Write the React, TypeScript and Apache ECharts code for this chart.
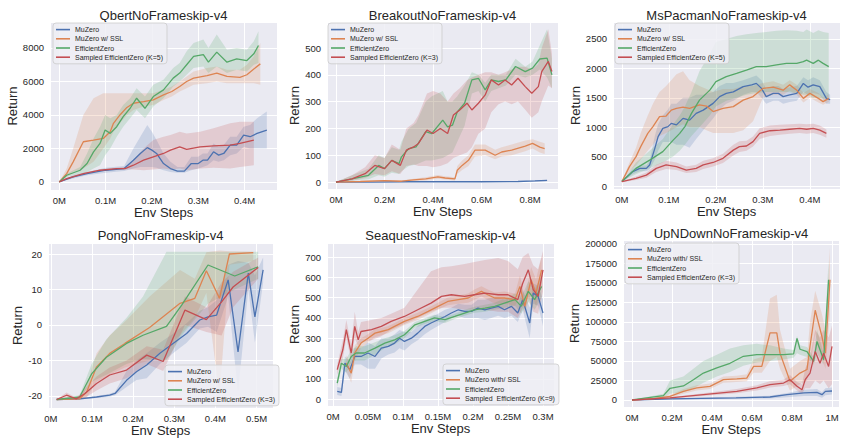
import React, { useEffect, useRef } from "react";
import * as echarts from "echarts";

// ---------- colours / names ----------
const C_BLUE = "#4C72B0";
const C_ORANGE = "#DD8452";
const C_GREEN = "#55A868";
const C_RED = "#C44E52";

// ---------- Qbert ----------
const qbMuX = [0, 0.03, 0.06, 0.1, 0.14, 0.16, 0.175, 0.19, 0.2, 0.21, 0.225, 0.24, 0.255, 0.27, 0.285, 0.3, 0.31, 0.32, 0.333, 0.344, 0.355, 0.369, 0.383, 0.398, 0.412, 0.427, 0.448];
const qbMuY = [0, 300, 500, 700, 800, 1300, 1700, 2050, 1900, 1700, 1100, 800, 650, 650, 1100, 1100, 1300, 1300, 1800, 1600, 1700, 2200, 2200, 2800, 2700, 2900, 3100];
const qbMuLo = [0, 200, 400, 550, 650, 800, 900, 900, 900, 850, 700, 600, 550, 550, 700, 800, 900, 1000, 1300, 1200, 1300, 1600, 1700, 2100, 2000, 2000, 2000];
const qbMuHi = [0, 400, 600, 850, 950, 2000, 2700, 3400, 3000, 2500, 1700, 1200, 900, 900, 1500, 1500, 1700, 1700, 2300, 2100, 2200, 2700, 2700, 3300, 3400, 3800, 4200];

const qbSslX = [0, 0.016, 0.03, 0.052, 0.074, 0.095, 0.11, 0.117, 0.131, 0.146, 0.16, 0.182, 0.203, 0.225, 0.243, 0.26, 0.275, 0.29, 0.319, 0.34, 0.362, 0.39, 0.405, 0.42, 0.434];
const qbSslY = [0, 500, 1200, 2400, 2500, 2600, 3000, 3500, 4000, 4450, 4700, 4800, 4900, 5200, 5400, 5700, 6000, 6200, 6350, 6500, 6300, 6250, 6400, 6750, 7050];
const qbSslLo = [0, 300, 600, 800, 1200, 2000, 2600, 3000, 3500, 4000, 4300, 4500, 4600, 4900, 5100, 5400, 5600, 5800, 5900, 6000, 5900, 5900, 5900, 5900, 5800];
const qbSslHi = [0, 800, 2000, 4000, 5000, 5300, 5300, 5300, 5300, 5300, 5300, 5300, 5300, 5500, 5700, 6000, 6300, 6600, 6800, 6900, 6700, 6700, 7000, 7500, 8300];

const qbEzX = [0, 0.016, 0.045, 0.06, 0.074, 0.088, 0.099, 0.11, 0.124, 0.138, 0.153, 0.167, 0.185, 0.203, 0.225, 0.246, 0.26, 0.275, 0.29, 0.311, 0.322, 0.34, 0.362, 0.383, 0.405, 0.42, 0.43];
const qbEzY = [0, 400, 700, 1100, 1800, 2300, 3100, 2900, 3300, 3900, 4400, 5000, 4400, 5100, 5500, 6200, 6500, 7000, 7500, 7600, 7150, 7750, 7150, 7350, 7250, 7650, 8150];
const qbEzLo = [0, 300, 500, 600, 800, 1000, 1600, 2000, 2700, 3300, 3800, 4300, 3800, 4500, 5000, 5700, 6000, 6400, 6800, 6900, 6500, 6900, 6500, 6700, 6600, 7000, 7100];
const qbEzHi = [0, 500, 900, 1700, 2600, 3300, 4000, 3800, 4000, 4600, 5000, 5600, 5100, 5800, 6100, 6800, 7100, 7800, 8300, 8500, 8000, 8800, 7900, 8000, 7900, 8400, 9000];

const qbSezX = [0, 0.016, 0.052, 0.088, 0.124, 0.142, 0.16, 0.182, 0.203, 0.225, 0.24, 0.26, 0.275, 0.304, 0.333, 0.369, 0.39, 0.42];
const qbSezY = [0, 200, 500, 700, 800, 800, 1000, 1300, 1500, 1700, 1900, 2100, 1950, 2100, 2150, 2200, 2300, 2500];
const qbSezLo = [0, 150, 450, 650, 750, 750, 750, 700, 750, 800, 750, 800, 700, 800, 850, 800, 900, 1000];
const qbSezHi = [0, 250, 550, 750, 850, 900, 1300, 2000, 2500, 2700, 2800, 3000, 2900, 3000, 3200, 3500, 3600, 3600];

// ---------- Breakout ----------
const brMuX = [0, 0.15, 0.3, 0.45, 0.6, 0.75, 0.82, 0.87];
const brMuY = [0, 0, 1, 1, 1, 2, 4, 6];
const brMuLo = [0, 0, 0, 0, 0, 0, 1, 3];
const brMuHi = [0, 1, 2, 2, 2, 4, 6, 8];

const brSslX = [0, 0.1, 0.2, 0.27, 0.32, 0.37, 0.42, 0.45, 0.49, 0.5, 0.52, 0.546, 0.573, 0.615, 0.656, 0.683, 0.724, 0.78, 0.81, 0.84, 0.86];
const brSslY = [0, 2, 5, 3, 8, 12, 19, 15, 12, 44, 62, 81, 119, 119, 100, 112, 119, 134, 144, 130, 125];
const brSslLo = [0, 0, 2, 1, 4, 6, 12, 9, 6, 30, 45, 60, 95, 100, 85, 95, 100, 115, 125, 110, 105];
const brSslHi = [0, 4, 8, 6, 12, 18, 26, 22, 18, 60, 80, 100, 140, 140, 120, 130, 140, 155, 160, 150, 145];

const brEzX = [0, 0.066, 0.134, 0.176, 0.2, 0.23, 0.26, 0.27, 0.3, 0.33, 0.37, 0.395, 0.44, 0.46, 0.48, 0.5, 0.53, 0.56, 0.587, 0.615, 0.64, 0.67, 0.7, 0.74, 0.78, 0.81, 0.84, 0.87, 0.89];
const brEzY = [0, 12, 25, 62, 50, 81, 69, 94, 125, 131, 188, 181, 231, 206, 212, 262, 294, 381, 387, 344, 381, 375, 381, 431, 412, 425, 459, 462, 400];
const brEzLo = [0, 5, 10, 25, 20, 35, 30, 40, 60, 65, 80, 80, 90, 100, 110, 150, 210, 330, 340, 300, 340, 350, 360, 400, 390, 400, 420, 390, 350];
const brEzHi = [0, 25, 50, 100, 90, 130, 120, 150, 200, 220, 300, 320, 340, 300, 300, 320, 360, 410, 400, 370, 400, 400, 400, 460, 430, 450, 510, 570, 460];

const brSezX = [0, 0.066, 0.12, 0.16, 0.2, 0.23, 0.265, 0.29, 0.32, 0.34, 0.375, 0.4, 0.43, 0.46, 0.484, 0.51, 0.54, 0.56, 0.587, 0.615, 0.64, 0.67, 0.697, 0.724, 0.75, 0.78, 0.807, 0.834, 0.848, 0.875, 0.89];
const brSezY = [0, 12, 31, 62, 50, 81, 62, 119, 131, 144, 194, 181, 200, 181, 250, 269, 294, 269, 294, 325, 381, 362, 381, 362, 387, 356, 331, 356, 412, 450, 412];
const brSezLo = [0, 5, 15, 30, 25, 40, 30, 60, 65, 60, 60, 55, 60, 70, 90, 100, 110, 130, 180, 200, 260, 290, 300, 290, 300, 270, 240, 260, 300, 360, 350];
const brSezHi = [0, 25, 55, 100, 90, 140, 120, 200, 220, 250, 330, 340, 330, 300, 330, 350, 380, 390, 400, 410, 410, 400, 410, 420, 430, 430, 420, 440, 500, 570, 480];

// ---------- MsPacman ----------
const msMuX = [0, 0.023, 0.038, 0.052, 0.059, 0.07, 0.077, 0.087, 0.098, 0.105, 0.116, 0.13, 0.144, 0.158, 0.173, 0.194, 0.208, 0.222, 0.237, 0.258, 0.276, 0.286, 0.297, 0.307, 0.322, 0.333, 0.343, 0.357, 0.372, 0.386, 0.396, 0.407, 0.421, 0.435, 0.443];
const msMuY = [75, 245, 300, 300, 357, 640, 840, 980, 1010, 1065, 1040, 1150, 1120, 1235, 1290, 1405, 1520, 1575, 1600, 1690, 1720, 1745, 1660, 1520, 1575, 1575, 1520, 1550, 1575, 1745, 1680, 1720, 1690, 1490, 1470];
const msMuLo = [75, 200, 250, 250, 280, 450, 600, 750, 750, 750, 700, 700, 650, 800, 950, 1150, 1300, 1400, 1450, 1550, 1600, 1600, 1500, 1400, 1450, 1450, 1400, 1430, 1450, 1600, 1550, 1580, 1550, 1400, 1400];
const msMuHi = [75, 290, 350, 350, 430, 850, 1050, 1200, 1300, 1400, 1400, 1500, 1500, 1550, 1550, 1600, 1700, 1750, 1750, 1800, 1850, 1880, 1800, 1650, 1700, 1700, 1650, 1680, 1700, 1850, 1800, 1850, 1800, 1600, 1550];

const msSslX = [0, 0.016, 0.03, 0.04, 0.055, 0.066, 0.08, 0.094, 0.105, 0.116, 0.13, 0.144, 0.165, 0.18, 0.194, 0.215, 0.237, 0.258, 0.279, 0.3, 0.322, 0.343, 0.357, 0.372, 0.386, 0.4, 0.418, 0.428, 0.44];
const msSslY = [75, 330, 500, 670, 895, 1010, 1180, 1190, 1290, 1320, 1340, 1320, 1380, 1360, 1265, 1320, 1350, 1460, 1520, 1660, 1680, 1630, 1720, 1630, 1490, 1575, 1490, 1435, 1490];
const msSslLo = [75, 250, 350, 450, 600, 700, 850, 900, 950, 1000, 1050, 1000, 1000, 950, 900, 900, 900, 950, 1100, 1500, 1550, 1550, 1620, 1550, 1420, 1500, 1420, 1380, 1430];
const msSslHi = [75, 400, 650, 900, 1200, 1400, 1600, 1700, 1800, 1900, 1950, 1800, 1700, 1650, 1600, 1650, 1650, 1700, 1700, 1750, 1780, 1720, 1800, 1720, 1580, 1650, 1580, 1500, 1560];

const msEzX = [0, 0.03, 0.059, 0.087, 0.109, 0.123, 0.134, 0.148, 0.165, 0.187, 0.2, 0.222, 0.244, 0.265, 0.286, 0.307, 0.329, 0.35, 0.372, 0.386, 0.393, 0.407, 0.418, 0.428, 0.44];
const msEzY = [75, 300, 440, 585, 780, 895, 1010, 1235, 1460, 1630, 1775, 1860, 1915, 1970, 2030, 2030, 2060, 2085, 2085, 2115, 2140, 2085, 2140, 2085, 2030];
const msEzLo = [75, 200, 300, 400, 500, 600, 700, 850, 1000, 1200, 1350, 1450, 1500, 1550, 1580, 1600, 1600, 1600, 1580, 1550, 1550, 1500, 1500, 1480, 1500];
const msEzHi = [75, 400, 600, 800, 1050, 1200, 1350, 1600, 1950, 2250, 2450, 2500, 2550, 2580, 2600, 2620, 2640, 2650, 2640, 2620, 2660, 2600, 2650, 2620, 2600];

const msSezX = [0, 0.03, 0.052, 0.073, 0.094, 0.116, 0.137, 0.158, 0.173, 0.194, 0.215, 0.237, 0.25, 0.265, 0.279, 0.293, 0.315, 0.336, 0.357, 0.378, 0.393, 0.407, 0.421, 0.435];
const msSezY = [75, 130, 185, 300, 360, 330, 270, 300, 360, 400, 470, 610, 670, 680, 755, 895, 940, 950, 965, 980, 965, 980, 950, 895];
const msSezLo = [65, 100, 140, 240, 290, 270, 220, 240, 290, 330, 390, 520, 580, 600, 670, 800, 850, 870, 890, 900, 890, 900, 870, 820];
const msSezHi = [85, 160, 230, 360, 430, 400, 330, 360, 430, 470, 550, 700, 760, 770, 840, 980, 1030, 1040, 1050, 1060, 1050, 1060, 1030, 960];

// ---------- Pong ----------
const pgMuX = [0.014, 0.07, 0.111, 0.143, 0.156, 0.184, 0.208, 0.233, 0.265, 0.297, 0.33, 0.362, 0.382, 0.403, 0.431, 0.455, 0.48, 0.496, 0.516];
const pgMuY = [-21, -20.8, -20.3, -19.8, -19.3, -15.6, -13.2, -11.3, -8, -5.2, -2.4, 1.4, 2.3, 2.8, 12.7, -7.6, 14.6, 2.3, 15.5];
const pgMuLo = [-21, -21, -20.6, -20.2, -19.8, -17.5, -15.5, -15, -11, -8, -5, -1, -0.5, -2, 8, -19, 10, -5, 12];
const pgMuHi = [-21, -20.6, -20, -19.4, -18.8, -13, -10, -8, -5, -2.5, 0.5, 4, 5, 7, 17, 18, 17.5, 14, 19];

const pgSslX = [0.014, 0.07, 0.087, 0.111, 0.143, 0.18, 0.24, 0.314, 0.35, 0.378, 0.41, 0.434, 0.492];
const pgSslY = [-21, -20.8, -18.9, -11.8, -8, -5.2, -0.7, 6.1, 7.5, 15.3, 7.5, 20, 20.4];
const pgSslLo = [-21, -21, -20.5, -16, -14, -12, -10, -3, 2, 9, -20, 17, 18];
const pgSslHi = [-21, -20.5, -17, -8, -3, 1, 8, 15.5, 13, 20.5, 21, 20.8, 20.6];

const pgEzX = [0.014, 0.07, 0.099, 0.135, 0.184, 0.224, 0.281, 0.318, 0.382, 0.447, 0.504];
const pgEzY = [-21, -20.3, -13.8, -9.1, -5.2, -2.9, -0.4, 5.6, 16.9, 13.8, 16.4];
const pgEzLo = [-21, -20.8, -16, -14, -11, -9.5, -10, -3, 6, 10, 13];
const pgEzHi = [-21, -19.8, -11, -4, 2, 8, 20.6, 20.6, 20.6, 20.6, 20.6];

const pgSezX = [0.014, 0.038, 0.062, 0.083, 0.111, 0.143, 0.184, 0.233, 0.273, 0.326, 0.378, 0.415, 0.443, 0.504];
const pgSezY = [-21, -19.8, -20.8, -19.3, -16.5, -14.1, -12.7, -8.5, -10.3, 4.2, 1.5, 6.5, 10.7, 16.2];
const pgSezLo = [-21, -20.5, -21, -20.5, -18.5, -16.5, -15, -11, -13, 0, -2, -3, 5, 13];
const pgSezHi = [-21, -19, -20.5, -18, -14.5, -12, -10, -6, -7, 8, 5, 12, 15, 19];

// ---------- Seaquest ----------
const sqMuX = [0.006, 0.012, 0.017, 0.024, 0.031, 0.04, 0.05, 0.06, 0.069, 0.079, 0.088, 0.095, 0.102, 0.112, 0.121, 0.131, 0.14, 0.15, 0.16, 0.169, 0.179, 0.188, 0.198, 0.207, 0.217, 0.226, 0.236, 0.245, 0.255, 0.264, 0.271, 0.281, 0.286, 0.293, 0.3];
const sqMuY = [38, 33, 177, 145, 210, 210, 227, 210, 251, 260, 276, 300, 284, 300, 325, 358, 375, 391, 407, 424, 440, 432, 432, 448, 440, 448, 457, 440, 457, 424, 490, 375, 522, 506, 424];
const sqMuLo = [20, 15, 140, 100, 170, 170, 150, 150, 200, 220, 230, 250, 240, 270, 290, 320, 340, 360, 380, 400, 410, 400, 400, 400, 390, 400, 410, 400, 410, 380, 440, 300, 470, 460, 360];
const sqMuHi = [60, 55, 210, 190, 250, 250, 280, 260, 300, 300, 320, 340, 330, 330, 360, 390, 405, 420, 440, 450, 470, 465, 465, 490, 490, 500, 500, 490, 500, 470, 540, 450, 570, 560, 490];

const sqSslX = [0.019, 0.026, 0.031, 0.04, 0.05, 0.06, 0.069, 0.079, 0.088, 0.102, 0.121, 0.136, 0.15, 0.164, 0.179, 0.193, 0.202, 0.212, 0.221, 0.231, 0.245, 0.26, 0.267, 0.274, 0.283, 0.29, 0.298];
const sqSslY = [177, 128, 227, 276, 300, 325, 333, 342, 358, 383, 407, 432, 457, 481, 490, 498, 514, 531, 514, 498, 498, 490, 555, 457, 588, 522, 637];
const sqSslLo = [140, 80, 190, 250, 280, 305, 315, 325, 340, 365, 390, 415, 440, 462, 470, 475, 490, 505, 490, 470, 470, 460, 500, 420, 520, 460, 560];
const sqSslHi = [215, 180, 265, 300, 320, 345, 350, 360, 375, 400, 425, 450, 475, 500, 510, 520, 540, 556, 540, 525, 530, 520, 610, 500, 650, 590, 700];

const sqEzX = [0.006, 0.012, 0.019, 0.026, 0.033, 0.045, 0.06, 0.074, 0.088, 0.102, 0.117, 0.131, 0.145, 0.16, 0.174, 0.188, 0.202, 0.217, 0.231, 0.245, 0.26, 0.269, 0.279, 0.288, 0.298];
const sqEzY = [79, 177, 161, 210, 227, 227, 251, 276, 292, 317, 366, 383, 400, 391, 407, 424, 440, 448, 457, 473, 490, 457, 531, 490, 555];
const sqEzLo = [60, 150, 130, 180, 190, 190, 220, 250, 270, 300, 350, 370, 385, 375, 395, 410, 425, 430, 440, 450, 460, 420, 480, 440, 500];
const sqEzHi = [100, 200, 200, 240, 260, 260, 280, 300, 315, 335, 380, 398, 415, 405, 420, 440, 455, 465, 475, 495, 520, 500, 580, 540, 610];

const sqSezX = [0.006, 0.014, 0.019, 0.026, 0.031, 0.036, 0.04, 0.055, 0.069, 0.083, 0.102, 0.121, 0.14, 0.155, 0.169, 0.188, 0.202, 0.217, 0.236, 0.25, 0.264, 0.271, 0.279, 0.286, 0.293, 0.3];
const sqSezY = [145, 243, 342, 227, 358, 292, 333, 342, 358, 383, 407, 440, 473, 506, 514, 506, 514, 522, 514, 514, 490, 571, 637, 539, 506, 637];
const sqSezLo = [120, 200, 300, 190, 300, 260, 280, 290, 310, 340, 370, 400, 430, 450, 450, 440, 440, 440, 430, 430, 400, 450, 500, 430, 420, 530];
const sqSezHi = [170, 290, 390, 270, 430, 330, 380, 390, 400, 420, 450, 540, 630, 650, 655, 665, 675, 685, 695, 680, 640, 700, 720, 660, 640, 730];

// ---------- UpNDown ----------
const udMuX = [0, 0.19, 0.35, 0.52, 0.69, 0.775, 0.86, 0.925, 0.95, 0.967, 1.0];
const udMuY = [0, 1300, 2000, 2600, 3800, 6800, 9000, 9800, 6800, 11000, 11500];
const udMuLo = [0, 500, 1000, 1500, 2000, 3500, 5000, 5000, 3000, 6000, 7000];
const udMuHi = [0, 2000, 3000, 4000, 5500, 9000, 13000, 14000, 10000, 15000, 16000];

const udSslX = [0, 0.107, 0.19, 0.257, 0.324, 0.39, 0.457, 0.524, 0.574, 0.608, 0.649, 0.69, 0.724, 0.74, 0.79, 0.84, 0.875, 0.89, 0.916, 0.95, 0.967, 0.99];
const udSslY = [0, 1700, 4700, 11000, 15400, 17500, 26000, 27000, 28000, 43000, 43000, 86000, 86000, 60000, 24000, 34500, 39000, 68700, 115000, 81000, 60000, 154000];
const udSslLo = [0, 1000, 3000, 8000, 12000, 14000, 22000, 23000, 24000, 35000, 35000, 50000, 55000, 40000, 12000, 20000, 25000, 40000, 85000, 55000, 40000, 110000];
const udSslHi = [0, 2500, 6500, 14000, 19000, 21000, 30000, 31000, 33000, 52000, 55000, 130000, 135000, 90000, 40000, 50000, 55000, 100000, 140000, 110000, 90000, 195000];

const udEzX = [0, 0.157, 0.19, 0.257, 0.307, 0.357, 0.424, 0.49, 0.557, 0.624, 0.69, 0.758, 0.808, 0.825, 0.84, 0.875, 0.908, 0.925, 0.958, 0.983];
const udEzY = [0, 5500, 15000, 18000, 26000, 34500, 41000, 47000, 56000, 58000, 58000, 58000, 59000, 79000, 65000, 62000, 49500, 75000, 51500, 154000];
const udEzLo = [0, 3000, 8000, 10000, 15000, 22000, 30000, 36000, 44000, 48000, 50000, 52000, 54000, 60000, 58000, 55000, 45000, 60000, 45000, 125000];
const udEzHi = [0, 8000, 25000, 30000, 40000, 50000, 58000, 66000, 70000, 72000, 70000, 66000, 64000, 82000, 70000, 68000, 55000, 90000, 60000, 180000];

const udSezX = [0, 0.19, 0.357, 0.524, 0.624, 0.69, 0.758, 0.79, 0.825, 0.85, 0.866, 0.89, 0.916, 0.94, 0.958, 0.983, 1.0];
const udSezY = [0, 2600, 6800, 11000, 15400, 19600, 21700, 26000, 17500, 13000, 26000, 34500, 62000, 47000, 60000, 43000, 68700];
const udSezLo = [0, 1500, 5000, 8500, 12000, 16000, 18000, 20000, 12000, 8000, 15000, 15000, 25000, 20000, 25000, 15000, 20000];
const udSezHi = [0, 3500, 8500, 14000, 19000, 24000, 26000, 32000, 23000, 20000, 40000, 55000, 90000, 80000, 90000, 80000, 95000];

// ---------- panel texts ----------
const titles = [
  "QbertNoFrameskip-v4",
  "BreakoutNoFrameskip-v4",
  "MsPacmanNoFrameskip-v4",
  "PongNoFrameskip-v4",
  "SeaquestNoFrameskip-v4",
  "UpNDownNoFrameskip-v4",
];
const legendNames = [
  ["MuZero", "MuZero w/ SSL", "EfficientZero", "Sampled EfficientZero (K=5)"],
  ["MuZero", "MuZero w/ SSL", "EfficientZero", "Sampled EfficientZero (K=3)"],
  ["MuZero", "MuZero w/ SSL", "EfficientZero", "Sampled EfficientZero (K=5)"],
  ["MuZero", "MuZero w/ SSL", "EfficientZero", "Sampled EfficientZero (K=3)"],
  ["MuZero", "MuZero with/ SSL", "EfficientZero", "Sampled  EfficientZero (K=9)"],
  ["MuZero", "MuZero with/ SSL", "EfficientZero", "Sampled EfficientZero (K=3)"],
];

const FONT = "Liberation Sans, Arial, sans-serif";
const TXT = "#262626";

// layout per panel (pixels)
const layout = [
  { left: 50, top: 22, width: 227, height: 168, xmin: -0.02, xmax: 0.47, xint: 0.1, ymin: -480, ymax: 9550, yint: 2000, nameGap: 28, legL: 53, legT: 23, titleY: 15 },
  { left: 327, top: 22, width: 231, height: 167, xmin: -0.037, xmax: 0.915, xint: 0.2, ymin: -26, ymax: 597, yint: 100, nameGap: 24, legL: 328, legT: 23, titleY: 15 },
  { left: 613, top: 22, width: 227, height: 167, xmin: -0.019, xmax: 0.464, xint: 0.1, ymin: -51, ymax: 2789, yint: 500, nameGap: 26, legL: 615, legT: 23, titleY: 15 },
  { left: 48, top: 243, width: 225, height: 165, xmin: -0.007, xmax: 0.54, xint: 0.1, ymin: -23.4, ymax: 23.1, yint: 10, nameGap: 23, legL: 165, legT: 365, titleY: 235 },
  { left: 327, top: 243, width: 227, height: 163, xmin: -0.0086, xmax: 0.3157, xint: 0.05, ymin: -34, ymax: 769, yint: 100, nameGap: 22, legL: 443, legT: 364, titleY: 235 },
  { left: 623, top: 240, width: 216, height: 167, xmin: -0.045, xmax: 1.035, xint: 0.2, ymin: -9000, ymax: 205000, yint: 25000, nameGap: 39, legL: 625, legT: 243, titleY: 233 },
];

type Line = { x: number[]; y: number[]; lo: number[]; hi: number[]; color: string };

const panels: Line[][] = [
  [
    { x: qbMuX, y: qbMuY, lo: qbMuLo, hi: qbMuHi, color: C_BLUE },
    { x: qbSslX, y: qbSslY, lo: qbSslLo, hi: qbSslHi, color: C_ORANGE },
    { x: qbEzX, y: qbEzY, lo: qbEzLo, hi: qbEzHi, color: C_GREEN },
    { x: qbSezX, y: qbSezY, lo: qbSezLo, hi: qbSezHi, color: C_RED },
  ],
  [
    { x: brMuX, y: brMuY, lo: brMuLo, hi: brMuHi, color: C_BLUE },
    { x: brSslX, y: brSslY, lo: brSslLo, hi: brSslHi, color: C_ORANGE },
    { x: brEzX, y: brEzY, lo: brEzLo, hi: brEzHi, color: C_GREEN },
    { x: brSezX, y: brSezY, lo: brSezLo, hi: brSezHi, color: C_RED },
  ],
  [
    { x: msMuX, y: msMuY, lo: msMuLo, hi: msMuHi, color: C_BLUE },
    { x: msSslX, y: msSslY, lo: msSslLo, hi: msSslHi, color: C_ORANGE },
    { x: msEzX, y: msEzY, lo: msEzLo, hi: msEzHi, color: C_GREEN },
    { x: msSezX, y: msSezY, lo: msSezLo, hi: msSezHi, color: C_RED },
  ],
  [
    { x: pgMuX, y: pgMuY, lo: pgMuLo, hi: pgMuHi, color: C_BLUE },
    { x: pgSslX, y: pgSslY, lo: pgSslLo, hi: pgSslHi, color: C_ORANGE },
    { x: pgEzX, y: pgEzY, lo: pgEzLo, hi: pgEzHi, color: C_GREEN },
    { x: pgSezX, y: pgSezY, lo: pgSezLo, hi: pgSezHi, color: C_RED },
  ],
  [
    { x: sqMuX, y: sqMuY, lo: sqMuLo, hi: sqMuHi, color: C_BLUE },
    { x: sqSslX, y: sqSslY, lo: sqSslLo, hi: sqSslHi, color: C_ORANGE },
    { x: sqEzX, y: sqEzY, lo: sqEzLo, hi: sqEzHi, color: C_GREEN },
    { x: sqSezX, y: sqSezY, lo: sqSezLo, hi: sqSezHi, color: C_RED },
  ],
  [
    { x: udMuX, y: udMuY, lo: udMuLo, hi: udMuHi, color: C_BLUE },
    { x: udSslX, y: udSslY, lo: udSslLo, hi: udSslHi, color: C_ORANGE },
    { x: udEzX, y: udEzY, lo: udEzLo, hi: udEzHi, color: C_GREEN },
    { x: udSezX, y: udSezY, lo: udSezLo, hi: udSezHi, color: C_RED },
  ],
];

function hexA(hex: string, a: number) {
  const r = parseInt(hex.slice(1, 3), 16);
  const g = parseInt(hex.slice(3, 5), 16);
  const b = parseInt(hex.slice(5, 7), 16);
  return `rgba(${r},${g},${b},${a})`;
}

function buildOption() {
  const grid: any[] = [];
  const xAxis: any[] = [];
  const yAxis: any[] = [];
  const legend: any[] = [];
  const series: any[] = [];
  const graphic: any[] = [];

  layout.forEach((L, p) => {
    grid.push({
      left: L.left, top: L.top, width: L.width, height: L.height,
      show: true, backgroundColor: "#EAEAF2", borderWidth: 0, containLabel: false,
    });
    xAxis.push({
      type: "value", gridIndex: p, min: L.xmin, max: L.xmax,
      minInterval: L.xint, maxInterval: L.xint,
      name: "Env Steps", nameLocation: "middle", nameGap: 14,
      nameTextStyle: { fontSize: 13, color: TXT, fontFamily: FONT },
      axisLine: { show: false }, axisTick: { show: false },
      axisLabel: {
        showMinLabel: false, showMaxLabel: false, margin: 5,
        fontSize: 9.5, color: TXT, fontFamily: FONT,
        formatter: (v: number) => `${parseFloat(v.toFixed(3))}M`,
      },
      splitLine: { show: true, lineStyle: { color: "#FFFFFF", width: 1 } },
    });
    yAxis.push({
      type: "value", gridIndex: p, min: L.ymin, max: L.ymax,
      minInterval: L.yint, maxInterval: L.yint,
      name: "Return", nameLocation: "middle", nameGap: L.nameGap, nameRotate: 90,
      nameTextStyle: { fontSize: 13, color: TXT, fontFamily: FONT },
      axisLine: { show: false }, axisTick: { show: false },
      axisLabel: {
        showMinLabel: false, showMaxLabel: false, margin: 6,
        fontSize: 9.5, color: TXT, fontFamily: FONT,
        formatter: (v: number) => `${parseFloat(v.toFixed(3))}`,
      },
      splitLine: { show: true, lineStyle: { color: "#FFFFFF", width: 1 } },
    });
    legend.push({
      orient: "vertical", left: L.legL, top: L.legT,
      data: legendNames[p],
      icon: "rect", itemWidth: 14, itemHeight: 1.6, itemGap: 0,
      padding: [2, 4, 2, 3],
      backgroundColor: "rgba(238,238,244,0.85)",
      borderColor: "#CCCCCC", borderWidth: 0.8, borderRadius: 3,
      selectedMode: false,
      textStyle: { fontSize: 7, lineHeight: 9.2, color: TXT, fontFamily: FONT },
    });
    graphic.push({
      type: "text",
      x: L.left + L.width / 2,
      y: L.titleY,
      silent: true,
      style: {
        text: titles[p], fill: TXT, font: `13px ${FONT}`,
        align: "center", verticalAlign: "middle",
        textAlign: "center", textVerticalAlign: "middle",
      },
    });

    const lines = panels[p];
    lines.forEach((ln, k) => {
      const xs = ln.x, lo = ln.lo, hi = ln.hi;
      series.push({
        type: "custom",
        name: `band-${p}-${k}`,
        xAxisIndex: p, yAxisIndex: p,
        silent: true, clip: true, z: 1,
        data: xs.map((v, i) => [v, lo[i], hi[i]]),
        encode: { x: 0, y: [1, 2] },
        renderItem: (params: any, api: any) => {
          if (params.dataIndex !== 0) return null;
          const pts: number[][] = [];
          for (let i = 0; i < xs.length; i++) pts.push(api.coord([xs[i], hi[i]]));
          for (let i = xs.length - 1; i >= 0; i--) pts.push(api.coord([xs[i], lo[i]]));
          return {
            type: "polygon",
            shape: { points: pts },
            style: { fill: hexA(ln.color, 0.2), stroke: "none" },
          };
        },
      });
    });
    lines.forEach((ln, k) => {
      series.push({
        type: "line",
        name: legendNames[p][k],
        xAxisIndex: p, yAxisIndex: p,
        data: ln.x.map((v, i) => [v, ln.y[i]]),
        symbol: "none", showSymbol: false,
        lineStyle: { width: 1.3, color: ln.color },
        itemStyle: { color: ln.color },
        z: 3, silent: true,
      });
    });
  });

  return {
    animation: false,
    backgroundColor: "#FFFFFF",
    textStyle: { fontFamily: FONT },
    grid, xAxis, yAxis, legend, series, graphic,
  };
}

export default function App() {
  const ref = useRef<HTMLDivElement>(null);
  useEffect(() => {
    if (!ref.current) return;
    const chart = echarts.init(ref.current, null, { renderer: "svg" });
    chart.setOption(buildOption() as any);
    return () => chart.dispose();
  }, []);
  return (
    <div
      ref={ref}
      style={{ position: "absolute", left: 0, top: 0, width: 856, height: 444 }}
    />
  );
}
